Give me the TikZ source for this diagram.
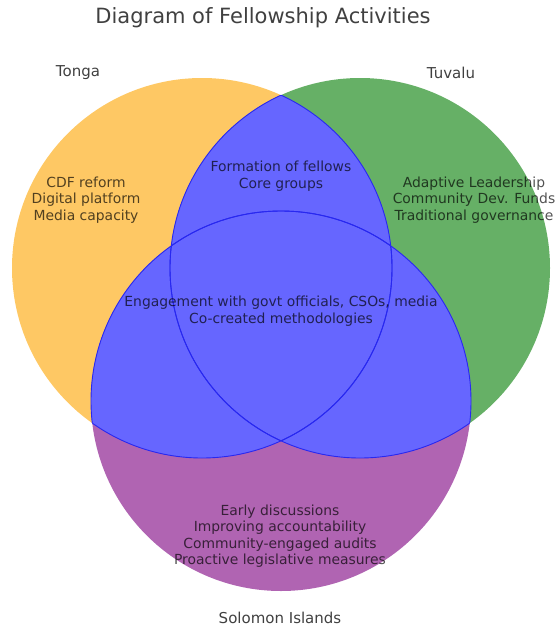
\documentclass[tikz,border=0pt]{standalone}
\usepackage{fontspec}
\setmainfont{DejaVu Sans}
\definecolor{tongafill}{RGB}{254,200,100}
\definecolor{tuvalufill}{RGB}{102,176,102}
\definecolor{solomonfill}{RGB}{176,100,178}
\definecolor{overlapfill}{RGB}{102,102,255}
\definecolor{overlapline}{RGB}{40,40,240}
\tikzset{
  setlabel/.style={text=black!75, font=\fontsize{15}{18}\selectfont},
  regiontext/.style={text=black, text opacity=0.68, align=center,
    font=\fontsize{13.9}{16.5}\selectfont},
  overlapedge/.style={draw=overlapline, line width=0.9pt}
}
\begin{document}
\begin{tikzpicture}[x=1pt,y=-1pt]
  \useasboundingbox (0,0) rectangle (557,629);
  \def\rad{190pt}
  \coordinate (tonga) at (202,268);
  \coordinate (tuvalu) at (360,268);
  \coordinate (solomon) at (281,401);

  % the three sets
  \fill[tongafill] (tonga) circle[radius=\rad];
  \fill[tuvalufill] (tuvalu) circle[radius=\rad];
  \fill[solomonfill] (solomon) circle[radius=\rad];

  % overlaps
  \begin{scope}
    \clip (tonga) circle[radius=\rad];
    \fill[overlapfill] (tuvalu) circle[radius=\rad];
    \fill[overlapfill] (solomon) circle[radius=\rad];
  \end{scope}
  \begin{scope}
    \clip (tuvalu) circle[radius=\rad];
    \fill[overlapfill] (solomon) circle[radius=\rad];
  \end{scope}

  % edges of the overlaps
  \begin{scope}
    \clip (tonga) circle[radius=\rad];
    \draw[overlapedge] (tuvalu) circle[radius=\rad];
    \draw[overlapedge] (solomon) circle[radius=\rad];
  \end{scope}
  \begin{scope}
    \clip (tuvalu) circle[radius=\rad];
    \draw[overlapedge] (tonga) circle[radius=\rad];
    \draw[overlapedge] (solomon) circle[radius=\rad];
  \end{scope}
  \begin{scope}
    \clip (solomon) circle[radius=\rad];
    \draw[overlapedge] (tonga) circle[radius=\rad];
    \draw[overlapedge] (tuvalu) circle[radius=\rad];
  \end{scope}

  \node[text=black!75, font=\fontsize{21}{25}\selectfont] (title) at (263,18) {Diagram of Fellowship Activities};
  \node[setlabel] (tongalabel) at (78,73) {Tonga};
  \node[setlabel] (tuvalulabel) at (451,73) {Tuvalu};
  \node[setlabel] (solomonlabel) at (280,618) {Solomon Islands};

  \node[regiontext] (tongaonly) at (86,200) {CDF reform\\Digital platform\\Media capacity};
  \node[regiontext] (tuvaluonly) at (474,200) {Adaptive Leadership\\Community Dev. Funds\\Traditional governance};
  \node[regiontext] (toptwo) at (281,176) {Formation of fellows\\Core groups};
  \node[regiontext] (allthree) at (281,311) {Engagement with govt officials, CSOs, media\\Co-created methodologies};
  \node[regiontext] (solomononly) at (280,536) {Early discussions\\Improving accountability\\Community-engaged audits\\Proactive legislative measures};
\end{tikzpicture}
\end{document}
